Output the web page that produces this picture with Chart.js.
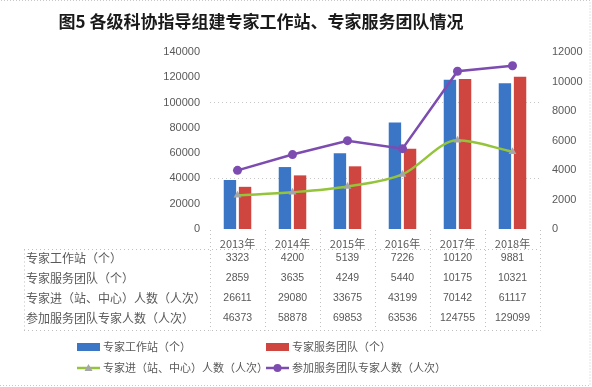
<!DOCTYPE html>
<html>
<head>
<meta charset="utf-8">
<script src="https://cdn.jsdelivr.net/npm/chart.js@4.4.1/dist/chart.umd.min.js"></script>
<style>
  html, body { margin: 0; padding: 0; background: #fff; }
  canvas { display: block; }
</style>
</head>
<body>
<canvas id="grafico" width="592" height="387"></canvas>
<script>
// dados
const anos = ['2013年', '2014年', '2015年', '2016年', '2017年', '2018年'];
const estacoes = [3323, 4200, 5139, 7226, 10120, 9881];
const equipes = [2859, 3635, 4249, 5440, 10175, 10321];
const entradas = [26611, 29080, 33675, 43199, 70142, 61117];
const membros = [46373, 58878, 69853, 63536, 124755, 129099];
const nomesSeries = ['专家工作站（个）', '专家服务团队（个）', '专家进（站、中心）人数（人次）', '参加服务团队专家人数（人次）'];
const titulo = '图5 各级科协指导组建专家工作站、专家服务团队情况';

const cinza = '#595959';
const fonteCJK = '"Noto Sans CJK SC", "Noto Sans", sans-serif';
const fonteNum = '"Liberation Sans", Arial, sans-serif';

const cores = {
    azul: '#3B76C6',
    vermelho: '#CF4540',
    verde: '#94C43A',
    roxo: '#7D4CB0'
};

function pontilhado(ctx, x1, y1, x2, y2) {
    ctx.save();
    ctx.strokeStyle = '#BFBFBF';
    ctx.lineWidth = 1;
    ctx.setLineDash([1, 3]);
    ctx.beginPath();
    ctx.moveTo(x1, y1);
    ctx.lineTo(x2, y2);
    ctx.stroke();
    ctx.restore();
}

const tabelaPlugin = {
    id: 'tabela',
    afterDraw(chart) {
        const ctx = chart.ctx;
        const x = chart.scales.x;
        const area = chart.chartArea;

        // titulo
        ctx.save();
        ctx.fillStyle = '#1a1a1a';
        ctx.font = 'bold 17px ' + fonteCJK;
        ctx.textAlign = 'center';
        ctx.textBaseline = 'middle';
        ctx.fillText(titulo, 261, 22);
        ctx.restore();

        // grade da tabela
        const topo = 249.5, fundo = 330.5;
        pontilhado(ctx, 24, topo, area.right, topo);
        pontilhado(ctx, 24, fundo, area.right, fundo);
        pontilhado(ctx, 24.5, topo, 24.5, fundo);
        for (let i = 0; i <= anos.length; i++) {
            const bx = Math.round(x.getPixelForValue(i - 0.5)) + 0.5;
            pontilhado(ctx, bx, area.bottom + 1, bx, fundo);
        }

        const linhas = [estacoes, equipes, entradas, membros];
        const ys = [258, 278, 298, 318];
        ctx.save();
        ctx.textBaseline = 'middle';
        ctx.fillStyle = cinza;
        linhas.forEach((serie, r) => {
            ctx.font = '12px ' + fonteCJK;
            ctx.textAlign = 'left';
            ctx.fillText(nomesSeries[r], 26, ys[r]);
            ctx.font = '10.5px ' + fonteNum;
            ctx.textAlign = 'center';
            serie.forEach((v, i) => {
                ctx.fillText(String(v), x.getPixelForValue(i), ys[r]);
            });
        });
        ctx.restore();

        // legenda
        const itens = [
            { tipo: 'barra', cor: cores.azul, x: 77, y: 347, texto: nomesSeries[0] },
            { tipo: 'barra', cor: cores.vermelho, x: 266, y: 347, texto: nomesSeries[1] },
            { tipo: 'tri', cor: cores.verde, x: 77, y: 368, texto: nomesSeries[2] },
            { tipo: 'circ', cor: cores.roxo, x: 266, y: 368, texto: nomesSeries[3] }
        ];
        ctx.save();
        itens.forEach(it => {
            if (it.tipo === 'barra') {
                ctx.fillStyle = it.cor;
                ctx.fillRect(it.x, it.y - 4, 23, 8);
            } else {
                ctx.strokeStyle = it.cor;
                ctx.lineWidth = 2.5;
                ctx.beginPath();
                ctx.moveTo(it.x, it.y);
                ctx.lineTo(it.x + 23, it.y);
                ctx.stroke();
                const cx = it.x + 11.5;
                if (it.tipo === 'tri') {
                    ctx.fillStyle = '#A6A6A6';
                    ctx.beginPath();
                    ctx.moveTo(cx, it.y - 4);
                    ctx.lineTo(cx + 4, it.y + 3);
                    ctx.lineTo(cx - 4, it.y + 3);
                    ctx.closePath();
                    ctx.fill();
                } else {
                    ctx.fillStyle = it.cor;
                    ctx.beginPath();
                    ctx.arc(cx, it.y, 4, 0, Math.PI * 2);
                    ctx.fill();
                }
            }
            ctx.fillStyle = cinza;
            ctx.font = '11px ' + fonteCJK;
            ctx.textAlign = 'left';
            ctx.textBaseline = 'middle';
            ctx.fillText(it.texto, it.x + 26, it.y);
        });
        ctx.restore();

        // moldura
        ctx.save();
        ctx.strokeStyle = '#C8C8C8';
        ctx.setLineDash([1, 2]);
        ctx.strokeRect(-2, 0.5, 592, 385);
        ctx.restore();
    }
};

const grafico = document.getElementById('grafico');

new Chart(grafico, {
    data: {
        labels: anos,
        datasets: [{
            type: 'line',
            label: nomesSeries[2],
            data: entradas,
            yAxisID: 'y',
            borderColor: cores.verde,
            backgroundColor: '#A6A6A6',
            borderWidth: 2.5,
            cubicInterpolationMode: 'monotone',
            pointStyle: 'triangle',
            pointRadius: 4.5,
            pointBorderWidth: 0,
            order: 0
        },
        {
            type: 'line',
            label: nomesSeries[3],
            data: membros,
            yAxisID: 'y',
            borderColor: cores.roxo,
            backgroundColor: cores.roxo,
            borderWidth: 2.5,
            tension: 0,
            pointStyle: 'circle',
            pointRadius: 4.5,
            pointBorderWidth: 0,
            order: 0
        },
        {
            type: 'bar',
            label: nomesSeries[0],
            data: estacoes,
            yAxisID: 'y1',
            backgroundColor: cores.azul,
            categoryPercentage: 0.55,
            barPercentage: 0.82,
            order: 1
        },
        {
            type: 'bar',
            label: nomesSeries[1],
            data: equipes,
            yAxisID: 'y1',
            backgroundColor: cores.vermelho,
            categoryPercentage: 0.55,
            barPercentage: 0.82,
            order: 1
        }]
    },
    options: {
        responsive: false,
        animation: false,
        layout: {
            padding: { top: 52, left: 150, right: 0, bottom: 132 }
        },
        plugins: {
            legend: { display: false },
            tooltip: { enabled: false }
        },
        scales: {
            x: {
                offset: true,
                grid: { display: false },
                border: { display: false },
                ticks: {
                    color: cinza,
                    font: { size: 11, family: fonteCJK, lineHeight: 1 },
                    padding: 1,
                    maxRotation: 0
                },
                afterFit(s) { s.height = 26; }
            },
            y: {
                position: 'left',
                min: 0,
                max: 140000,
                ticks: {
                    stepSize: 20000,
                    color: cinza,
                    font: { size: 11, family: fonteNum },
                    padding: 10,
                    callback: v => String(v)
                },
                grid: {
                    drawTicks: false,
                    color: ctx => (ctx.tick && (ctx.tick.value === 40000 || ctx.tick.value === 100000)) ? '#C8C8C8' : 'rgba(0,0,0,0)',
                    lineWidth: 1
                },
                border: { display: false, dash: [1, 3] },
                afterFit(s) { s.width = 60; }
            },
            y1: {
                position: 'right',
                min: 0,
                max: 12000,
                ticks: {
                    stepSize: 2000,
                    color: cinza,
                    font: { size: 11, family: fonteNum },
                    padding: 12,
                    callback: v => String(v)
                },
                grid: { display: false, drawTicks: false },
                border: { display: false },
                afterFit(s) { s.width = 52; }
            }
        }
    },
    plugins: [tabelaPlugin]
});
</script>
</body>
</html>
